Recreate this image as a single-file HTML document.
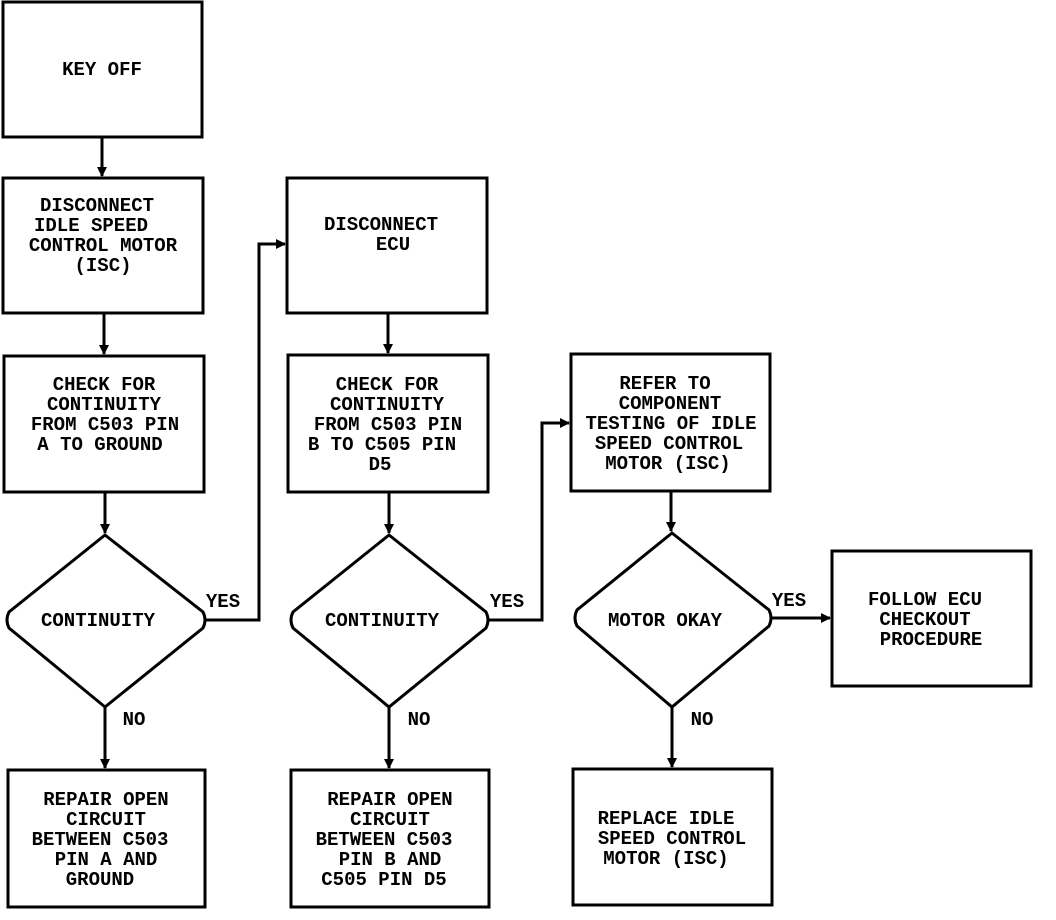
<!DOCTYPE html>
<html><head><meta charset="utf-8"><style>
html,body{margin:0;padding:0;background:#fff;}
svg{display:block}
text{font-family:"Liberation Mono",monospace;font-size:19px;font-weight:bold;fill:#000;text-anchor:middle}
</style></head><body>
<svg width="1056" height="920" viewBox="0 0 1056 920" xmlns="http://www.w3.org/2000/svg">
<defs><marker id="a" markerWidth="10" markerHeight="10" refX="9" refY="5" orient="auto" markerUnits="userSpaceOnUse"><path d="M0,0 L10,5 L0,10 z" fill="#000"/></marker></defs>
<g fill="none" stroke="#000" stroke-width="3">
<rect x="3" y="2" width="199" height="135"/>
<rect x="3" y="178" width="200" height="135"/>
<rect x="4" y="356" width="200" height="136"/>
<path d="M105,535 L203,612 Q207,620 203,628 L105,707 L9,628 Q5,620 9,612 Z"/>
<rect x="8" y="770" width="197" height="137"/>
<rect x="287" y="178" width="200" height="135"/>
<rect x="288" y="355" width="200" height="137"/>
<path d="M389,535 L486,612 Q490,620 486,628 L389,707 L293,628 Q289,620 293,612 Z"/>
<rect x="291" y="770" width="198" height="137"/>
<rect x="571" y="354" width="199" height="137"/>
<path d="M672,533 L769,610 Q773,618 769,626 L672,707 L577,626 Q573,618 577,610 Z"/>
<rect x="573" y="769" width="199" height="136"/>
<rect x="832" y="551" width="199" height="135"/>
<line x1="102" y1="137" x2="102" y2="176" marker-end="url(#a)"/>
<line x1="104" y1="313" x2="104" y2="354" marker-end="url(#a)"/>
<line x1="105" y1="492" x2="105" y2="533" marker-end="url(#a)"/>
<line x1="105" y1="707" x2="105" y2="768" marker-end="url(#a)"/>
<polyline points="205,620 259,620 259,244 285,244" marker-end="url(#a)"/>
<line x1="388" y1="313" x2="388" y2="353" marker-end="url(#a)"/>
<line x1="389" y1="492" x2="389" y2="533" marker-end="url(#a)"/>
<line x1="389" y1="707" x2="389" y2="768" marker-end="url(#a)"/>
<polyline points="488,620 542,620 542,423 569,423" marker-end="url(#a)"/>
<line x1="671" y1="491" x2="671" y2="531" marker-end="url(#a)"/>
<line x1="672" y1="707" x2="672" y2="767" marker-end="url(#a)"/>
<line x1="771" y1="618" x2="830" y2="618" marker-end="url(#a)"/>
</g>
<text x="102" y="75">KEY OFF</text>
<text x="97" y="211">DISCONNECT</text>
<text x="91" y="231">IDLE SPEED</text>
<text x="103" y="251">CONTROL MOTOR</text>
<text x="103" y="271">(ISC)</text>
<text x="104" y="390">CHECK FOR</text>
<text x="104" y="410">CONTINUITY</text>
<text x="105" y="430">FROM C503 PIN</text>
<text x="100" y="450">A TO GROUND</text>
<text x="98" y="626">CONTINUITY</text>
<text x="223" y="607">YES</text>
<text x="134" y="725">NO</text>
<text x="106" y="805">REPAIR OPEN</text>
<text x="106" y="825">CIRCUIT</text>
<text x="100" y="845">BETWEEN C503</text>
<text x="106" y="865">PIN A AND</text>
<text x="100" y="885">GROUND</text>
<text x="381" y="230">DISCONNECT</text>
<text x="393" y="250">ECU</text>
<text x="387" y="390">CHECK FOR</text>
<text x="387" y="410">CONTINUITY</text>
<text x="388" y="430">FROM C503 PIN</text>
<text x="382" y="450">B TO C505 PIN</text>
<text x="380" y="470">D5</text>
<text x="382" y="626">CONTINUITY</text>
<text x="507" y="607">YES</text>
<text x="419" y="725">NO</text>
<text x="390" y="805">REPAIR OPEN</text>
<text x="390" y="825">CIRCUIT</text>
<text x="384" y="845">BETWEEN C503</text>
<text x="390" y="865">PIN B AND</text>
<text x="384" y="885">C505 PIN D5</text>
<text x="665" y="389">REFER TO</text>
<text x="670" y="409">COMPONENT</text>
<text x="671" y="429">TESTING OF IDLE</text>
<text x="669" y="449">SPEED CONTROL</text>
<text x="668" y="469">MOTOR (ISC)</text>
<text x="665" y="626">MOTOR OKAY</text>
<text x="789" y="606">YES</text>
<text x="702" y="725">NO</text>
<text x="666" y="824">REPLACE IDLE</text>
<text x="672" y="844">SPEED CONTROL</text>
<text x="666" y="864">MOTOR (ISC)</text>
<text x="925" y="605">FOLLOW ECU</text>
<text x="925" y="625">CHECKOUT</text>
<text x="931" y="645">PROCEDURE</text>
</svg>
</body></html>
